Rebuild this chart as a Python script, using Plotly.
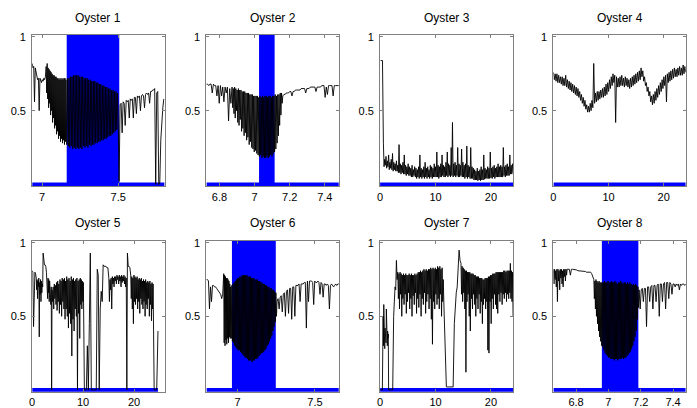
import numpy as np
import plotly.graph_objects as go

W, H = 697, 408
titles = ["Oyster 1", "Oyster 2", "Oyster 3", "Oyster 4",
          "Oyster 5", "Oyster 6", "Oyster 7", "Oyster 8"]

# ---------- Oyster 1 ----------
o1_breaks = [6.935, 7.027, 7.157, 7.506, 7.80]
o1_s1 = [0.82, 0.79, 0.80, 0.56, 0.79, 0.76, 0.73, 0.71, 0.72, 0.50, 0.72, 0.70, 0.69, 0.71, 0.70, 0.72, 0.71, 0.73]
o1_s2 = [0.80, 0.62, 0.82, 0.58, 0.79, 0.52, 0.78, 0.55, 0.77, 0.47, 0.76, 0.50, 0.75, 0.42, 0.74, 0.45, 0.74, 0.38, 0.73, 0.40,
         0.73, 0.34, 0.72, 0.36, 0.72, 0.31, 0.71, 0.33, 0.72, 0.29, 0.71, 0.31, 0.72, 0.28, 0.71, 0.30, 0.72, 0.27, 0.72, 0.29]
o1_s3 = [0.71, 0.27, 0.72, 0.26, 0.72, 0.25, 0.73, 0.26, 0.73, 0.24, 0.74, 0.25, 0.74, 0.24, 0.74, 0.25, 0.74, 0.24, 0.73, 0.25,
         0.73, 0.24, 0.73, 0.26, 0.72, 0.25, 0.72, 0.26, 0.72, 0.25, 0.71, 0.27, 0.71, 0.26, 0.70, 0.27, 0.70, 0.27, 0.70, 0.28,
         0.69, 0.28, 0.69, 0.29, 0.68, 0.29, 0.68, 0.30, 0.67, 0.30, 0.67, 0.31, 0.66, 0.31, 0.66, 0.32, 0.65, 0.33, 0.65, 0.33,
         0.64, 0.34, 0.64, 0.35, 0.63, 0.36, 0.63, 0.37, 0.62, 0.38]
o1_s4 = [0.02, 0.54, 0.55, 0.35, 0.56, 0.55, 0.40, 0.57, 0.56, 0.57, 0.45, 0.58, 0.57, 0.58, 0.45, 0.59, 0.59, 0.48, 0.60, 0.59,
         0.60, 0.50, 0.60, 0.61, 0.60, 0.52, 0.61, 0.62, 0.61, 0.62, 0.55, 0.63, 0.63, 0.64, 0.64, 0.65, 0.00, 0.62, 0.63, 0.00,
         0.01, 0.30, 0.45, 0.52, 0.58]

# ---------- Oyster 2 ----------
o2_breaks = [6.726, 6.872, 7.161, 7.48]
o2_s1 = [0.68, 0.68, 0.67, 0.68, 0.68, 0.62, 0.68, 0.67, 0.67, 0.60, 0.67, 0.55, 0.67, 0.60, 0.66, 0.56, 0.66, 0.62, 0.66, 0.43, 0.65, 0.55]
o2_s2 = [0.66, 0.52, 0.65, 0.48, 0.66, 0.45, 0.65, 0.50, 0.64, 0.42, 0.65, 0.40, 0.64, 0.44, 0.64, 0.36, 0.63, 0.38, 0.63, 0.33,
         0.63, 0.35, 0.62, 0.30, 0.62, 0.32, 0.62, 0.27, 0.61, 0.29, 0.61, 0.25, 0.61, 0.24, 0.60, 0.22, 0.60, 0.23, 0.60, 0.21,
         0.60, 0.20, 0.59, 0.19, 0.60, 0.20, 0.59, 0.18, 0.60, 0.19, 0.59, 0.18, 0.60, 0.18, 0.60, 0.19, 0.59, 0.18, 0.60, 0.19,
         0.60, 0.20, 0.59, 0.19, 0.60, 0.21, 0.60, 0.22, 0.61, 0.24, 0.60, 0.28, 0.61, 0.33, 0.61, 0.40, 0.62, 0.47, 0.62, 0.55]
o2_s3 = [0.60, 0.61, 0.61, 0.62, 0.62, 0.62, 0.63, 0.63, 0.60, 0.63, 0.63, 0.64, 0.64, 0.64, 0.64, 0.64, 0.65, 0.65, 0.65, 0.65,
         0.62, 0.65, 0.65, 0.65, 0.66, 0.66, 0.66, 0.66, 0.66, 0.63, 0.66, 0.66, 0.66, 0.66, 0.67, 0.67, 0.67, 0.59, 0.66, 0.61,
         0.67, 0.67, 0.67, 0.67, 0.60, 0.67, 0.67, 0.67, 0.67, 0.67]

# ---------- Oyster 3 ----------
o3_breaks = [0.1, 0.6, 24.0]
o3_s1 = [0.84, 0.84, 0.84]
o3_s2 = [0.28, 0.12, 0.17, 0.13, 0.19, 0.11, 0.16, 0.12, 0.20, 0.10, 0.15, 0.11, 0.17, 0.10, 0.21, 0.09, 0.15, 0.10, 0.14, 0.09,
         0.16, 0.09, 0.13, 0.08, 0.27, 0.08, 0.14, 0.07, 0.13, 0.08, 0.15, 0.07, 0.20, 0.07, 0.13, 0.06, 0.12, 0.07, 0.14, 0.06,
         0.12, 0.06, 0.11, 0.05, 0.13, 0.05, 0.10, 0.06, 0.12, 0.05, 0.11, 0.04, 0.10, 0.05, 0.12, 0.04, 0.20, 0.05, 0.11, 0.04,
         0.10, 0.05, 0.12, 0.04, 0.15, 0.05, 0.11, 0.04, 0.12, 0.05, 0.10, 0.04, 0.13, 0.05, 0.12, 0.04, 0.11, 0.05, 0.14, 0.05,
         0.12, 0.05, 0.22, 0.05, 0.13, 0.04, 0.12, 0.05, 0.14, 0.05, 0.20, 0.06, 0.13, 0.05, 0.12, 0.05, 0.15, 0.06, 0.22, 0.05,
         0.14, 0.06, 0.13, 0.05, 0.25, 0.06, 0.42, 0.05, 0.14, 0.06, 0.15, 0.05, 0.13, 0.06, 0.25, 0.05, 0.14, 0.05, 0.13, 0.06,
         0.24, 0.05, 0.15, 0.05, 0.13, 0.04, 0.14, 0.05, 0.26, 0.04, 0.13, 0.05, 0.12, 0.04, 0.25, 0.04, 0.12, 0.04, 0.11, 0.03,
         0.10, 0.03, 0.09, 0.03, 0.11, 0.025, 0.09, 0.03, 0.10, 0.025, 0.12, 0.03, 0.10, 0.03, 0.20, 0.035, 0.11, 0.04, 0.10, 0.04,
         0.12, 0.04, 0.11, 0.04, 0.22, 0.045, 0.11, 0.04, 0.12, 0.05, 0.13, 0.04, 0.11, 0.05, 0.12, 0.05, 0.14, 0.05, 0.12, 0.05,
         0.13, 0.05, 0.12, 0.05, 0.25, 0.06, 0.12, 0.05, 0.13, 0.06, 0.14, 0.06, 0.12, 0.06, 0.20, 0.07, 0.13, 0.07, 0.14, 0.08]

# ---------- Oyster 4 ----------
o4_breaks = [0.0, 24.0]
o4_s1 = [0.76, 0.71, 0.75, 0.70, 0.75, 0.69, 0.74, 0.69, 0.73, 0.68, 0.73, 0.67, 0.72, 0.67, 0.74, 0.66, 0.71, 0.65, 0.70, 0.64,
         0.69, 0.63, 0.68, 0.62, 0.67, 0.61, 0.66, 0.60, 0.65, 0.59, 0.63, 0.57, 0.61, 0.55, 0.59, 0.53, 0.57, 0.51, 0.54, 0.49,
         0.53, 0.49, 0.55, 0.50, 0.57, 0.52, 0.82, 0.55, 0.62, 0.56, 0.63, 0.57, 0.63, 0.58, 0.64, 0.59, 0.65, 0.59, 0.66, 0.60,
         0.68, 0.61, 0.69, 0.63, 0.71, 0.65, 0.73, 0.67, 0.75, 0.69, 0.74, 0.42, 0.73, 0.66, 0.72, 0.66, 0.73, 0.67, 0.74, 0.67,
         0.72, 0.66, 0.73, 0.67, 0.72, 0.66, 0.71, 0.65, 0.72, 0.66, 0.73, 0.67, 0.74, 0.68, 0.75, 0.69, 0.76, 0.70, 0.77, 0.71,
         0.79, 0.73, 0.77, 0.70, 0.73, 0.67, 0.69, 0.63, 0.66, 0.60, 0.63, 0.56, 0.60, 0.54, 0.61, 0.55, 0.63, 0.57, 0.65, 0.59,
         0.67, 0.61, 0.69, 0.63, 0.71, 0.65, 0.73, 0.67, 0.74, 0.56, 0.75, 0.69, 0.76, 0.70, 0.77, 0.71, 0.78, 0.72, 0.79, 0.73,
         0.78, 0.73, 0.79, 0.74, 0.80, 0.74, 0.79, 0.74, 0.81, 0.75, 0.80, 0.76]

# ---------- Oyster 5 ----------
o5_breaks = [0.0, 0.8, 2.15, 2.8, 3.9, 9.45, 10.25, 13.75, 15.05, 18.7, 19.35, 23.95, 24.7]
o5_s1 = [0.81, 0.80, 0.43, 0.80, 0.80, 0.79]
o5_s2 = [0.76, 0.68, 0.75, 0.62, 0.74, 0.70, 0.76, 0.36, 0.73, 0.65, 0.75, 0.60, 0.74, 0.66, 0.72, 0.70]
o5_s3 = [0.93, 0.85, 0.85, 0.85, 0.84]
o5_s4 = [0.80, 0.70, 0.78, 0.62, 0.76, 0.66, 0.75, 0.60, 0.74, 0.64, 0.72, 0.58, 0.70, 0.0]
o5_s5 = [0.68, 0.60, 0.70, 0.55, 0.72, 0.62, 0.71, 0.58, 0.73, 0.54, 0.74, 0.60, 0.72, 0.52, 0.75, 0.58, 0.74, 0.50, 0.76, 0.60,
         0.75, 0.55, 0.76, 0.48, 0.74, 0.55, 0.77, 0.50, 0.75, 0.42, 0.76, 0.52, 0.74, 0.45, 0.77, 0.23, 0.75, 0.48, 0.76, 0.40,
         0.74, 0.55, 0.75, 0.50, 0.76, 0.0, 0.74, 0.52, 0.75, 0.35]
o5_s6 = [0.76, 0.58, 0.75, 0.55, 0.74, 0.60, 0.73, 0.0]
o5_s7 = [0.0, 0.0, 0.0, 0.3, 0.0, 0.45, 0.93, 0.0, 0.0, 0.0, 0.0, 0.0, 0.0, 0.82, 0.78, 0.0, 0.55, 0.67]
o5_s8 = [0.60, 0.85, 0.84, 0.84, 0.84, 0.83, 0.83]
o5_s9 = [0.76, 0.60, 0.75, 0.68, 0.76, 0.55, 0.77, 0.72, 0.76, 0.70, 0.77, 0.74, 0.77, 0.72, 0.78, 0.75, 0.77, 0.72, 0.78, 0.74,
         0.77, 0.70, 0.78, 0.73, 0.77, 0.74, 0.78, 0.72, 0.77, 0.70, 0.76, 0.0]
o5_s10 = [0.93, 0.84, 0.84, 0.83]
o5_s11 = [0.78, 0.62, 0.77, 0.55, 0.76, 0.45, 0.78, 0.60, 0.77, 0.58, 0.76, 0.62, 0.77, 0.55, 0.75, 0.60, 0.76, 0.52, 0.75, 0.62,
          0.76, 0.58, 0.74, 0.55, 0.75, 0.60, 0.74, 0.50, 0.75, 0.58, 0.73, 0.55, 0.74, 0.62, 0.73, 0.50, 0.74, 0.58, 0.72, 0.47,
          0.73, 0.55, 0.72, 0.0]
o5_s12 = [0.0, 0.0, 0.0, 0.40]

# ---------- Oyster 6 ----------
o6_breaks = [6.798, 6.91, 6.955, 7.255, 7.655]
o6_s1 = [0.75, 0.75, 0.74, 0.55, 0.70, 0.60, 0.71, 0.71, 0.70, 0.70, 0.69, 0.68, 0.67, 0.66, 0.65, 0.62, 0.65]
o6_s2 = [0.79, 0.32, 0.78, 0.30, 0.77, 0.34, 0.76, 0.31, 0.76, 0.35, 0.75, 0.32, 0.74, 0.36, 0.72, 0.35]
o6_s3 = [0.70, 0.35, 0.71, 0.33, 0.72, 0.32, 0.73, 0.30, 0.74, 0.29, 0.75, 0.28, 0.76, 0.27, 0.76, 0.27, 0.77, 0.26, 0.77, 0.25,
         0.78, 0.24, 0.78, 0.23, 0.78, 0.22, 0.78, 0.22, 0.78, 0.21, 0.77, 0.20, 0.77, 0.20, 0.77, 0.20, 0.76, 0.19, 0.76, 0.20,
         0.76, 0.20, 0.75, 0.21, 0.75, 0.21, 0.75, 0.22, 0.74, 0.23, 0.74, 0.24, 0.73, 0.25, 0.73, 0.25, 0.72, 0.26, 0.72, 0.27,
         0.71, 0.28, 0.71, 0.30, 0.70, 0.31, 0.70, 0.33, 0.69, 0.35, 0.69, 0.37, 0.68, 0.40, 0.68, 0.43, 0.67, 0.46, 0.66, 0.50]
o6_s4 = [0.60, 0.62, 0.55, 0.63, 0.64, 0.53, 0.65, 0.66, 0.50, 0.67, 0.68, 0.52, 0.69, 0.69, 0.48, 0.70, 0.70, 0.50, 0.71, 0.71,
         0.71, 0.72, 0.60, 0.72, 0.72, 0.72, 0.73, 0.73, 0.42, 0.74, 0.60, 0.74, 0.74, 0.74, 0.73, 0.58, 0.74, 0.73, 0.73, 0.74,
         0.73, 0.65, 0.73, 0.72, 0.63, 0.72, 0.72, 0.71, 0.72, 0.71, 0.55, 0.71, 0.72, 0.71, 0.70, 0.71, 0.72, 0.71, 0.72, 0.72]

# ---------- Oyster 7 ----------
o7_breaks = [0.0, 0.55, 1.6, 2.45, 3.2, 11.4, 12.1, 13.4, 14.6, 24.0]
o7_s1 = [0.0, 0.0, 0.0, 0.0]
o7_s2 = [0.50, 0.30, 0.58, 0.35, 0.45, 0.28, 0.42, 0.35, 0.40, 0.32, 0.55, 0.38, 0.42, 0.30, 0.40, 0.35, 0.38, 0.0]
o7_s3 = [0.0, 0.0, 0.0, 0.0, 0.0]
o7_s4 = [0.50, 0.62, 0.70, 0.68, 0.88, 0.75]
o7_s5 = [0.80, 0.62, 0.79, 0.55, 0.80, 0.65, 0.79, 0.50, 0.78, 0.62, 0.79, 0.58, 0.78, 0.65, 0.79, 0.52, 0.78, 0.60, 0.78, 0.66,
         0.79, 0.55, 0.78, 0.62, 0.79, 0.50, 0.78, 0.64, 0.78, 0.58, 0.79, 0.66, 0.78, 0.52, 0.79, 0.62, 0.80, 0.56, 0.80, 0.65,
         0.81, 0.50, 0.80, 0.62, 0.81, 0.58, 0.82, 0.66, 0.81, 0.52, 0.82, 0.60, 0.81, 0.65, 0.82, 0.55, 0.82, 0.62, 0.83, 0.48,
         0.82, 0.31, 0.83, 0.60, 0.82, 0.55, 0.83, 0.65, 0.82, 0.58, 0.84, 0.62, 0.83, 0.55, 0.84, 0.65, 0.82, 0.50, 0.83, 0.60]
o7_s6 = [0.75, 0.55, 0.35, 0.15, 0.02]
o7_s7 = [0.02, 0.02, 0.02, 0.02, 0.02, 0.02]
o7_s8 = [0.45, 0.58, 0.66, 0.70, 0.80, 0.95, 0.88]
o7_s9 = [0.86, 0.65, 0.84, 0.60, 0.83, 0.66, 0.82, 0.55, 0.81, 0.12, 0.81, 0.60, 0.80, 0.65, 0.80, 0.50, 0.80, 0.40, 0.79, 0.62,
         0.79, 0.55, 0.79, 0.65, 0.78, 0.58, 0.78, 0.50, 0.77, 0.62, 0.77, 0.55, 0.77, 0.65, 0.76, 0.52, 0.76, 0.60, 0.76, 0.45,
         0.75, 0.58, 0.75, 0.62, 0.76, 0.55, 0.76, 0.60, 0.76, 0.27, 0.77, 0.25, 0.77, 0.60, 0.78, 0.45, 0.78, 0.62, 0.79, 0.55,
         0.79, 0.65, 0.79, 0.58, 0.80, 0.55, 0.80, 0.52, 0.80, 0.65, 0.80, 0.60, 0.80, 0.66, 0.80, 0.58, 0.80, 0.65, 0.81, 0.62,
         0.81, 0.66, 0.80, 0.60, 0.81, 0.65, 0.81, 0.62, 0.81, 0.66, 0.86, 0.62, 0.81, 0.60, 0.80, 0.50]

# ---------- Oyster 8 ----------
o8_breaks = [6.66, 6.745, 6.91, 6.962, 7.19, 7.4785]
o8_s1 = [0.82, 0.72, 0.82, 0.75, 0.81, 0.70, 0.82, 0.60, 0.82, 0.74, 0.81, 0.68, 0.82, 0.76, 0.82, 0.72, 0.81, 0.70, 0.82, 0.77,
         0.82, 0.74, 0.82, 0.78]
o8_s2 = [0.82, 0.82, 0.82, 0.78, 0.82, 0.82, 0.82, 0.82, 0.815, 0.815, 0.81, 0.81, 0.81, 0.81, 0.81, 0.81, 0.805, 0.805, 0.80, 0.80,
         0.80, 0.80, 0.80, 0.79, 0.76]
o8_s3 = [0.75, 0.62, 0.74, 0.55, 0.75, 0.50, 0.74, 0.45, 0.73, 0.40, 0.74, 0.36, 0.73, 0.33, 0.73, 0.30]
o8_s4 = [0.73, 0.29, 0.73, 0.27, 0.74, 0.25, 0.73, 0.24, 0.73, 0.23, 0.74, 0.22, 0.73, 0.22, 0.73, 0.21, 0.74, 0.21, 0.73, 0.21,
         0.73, 0.20, 0.74, 0.21, 0.73, 0.21, 0.72, 0.20, 0.73, 0.21, 0.73, 0.21, 0.74, 0.21, 0.73, 0.22, 0.72, 0.21, 0.73, 0.22,
         0.73, 0.22, 0.72, 0.23, 0.73, 0.24, 0.72, 0.25, 0.73, 0.26, 0.72, 0.28, 0.71, 0.30, 0.72, 0.33, 0.71, 0.36, 0.72, 0.40,
         0.71, 0.48, 0.70, 0.56]
o8_s5 = [0.68, 0.55, 0.68, 0.69, 0.60, 0.69, 0.69, 0.43, 0.70, 0.70, 0.60, 0.70, 0.71, 0.55, 0.71, 0.71, 0.60, 0.71, 0.72, 0.50,
         0.72, 0.72, 0.60, 0.72, 0.73, 0.55, 0.73, 0.73, 0.62, 0.73, 0.72, 0.65, 0.72, 0.72, 0.70, 0.72, 0.71, 0.72, 0.68, 0.72,
         0.71, 0.72, 0.72, 0.71, 0.72]

# spawning periods (None = no spawning), time extents, axis ranges and ticks
spawn_on = [7.175, 7.037, None, None, None, 6.976, None, 6.972]
spawn_off = [7.494, 7.103, None, None, None, 7.234, None, 7.173]
t_start = [6.935, 6.726, 0.0, 0.0, 0.0, 6.798, 0.0, 6.66]
t_end = [7.805, 7.48, 24.0, 24.0, 24.7, 7.655, 24.0, 7.4785]
x_ranges = [[6.935, 7.805], [6.726, 7.48], [0, 24], [0, 24], [0, 26], [6.798, 7.655], [0, 24], [6.66, 7.4785]]
x_ticks = [[7, 7.5], [6.8, 7, 7.2, 7.4], [0, 10, 20], [0, 10, 20], [0, 10, 20], [7, 7.5], [0, 10, 20], [6.8, 7, 7.2, 7.4]]
x_ticktext = [["7", "7.5"], ["6.8", "7", "7.2", "7.4"], ["0", "10", "20"], ["0", "10", "20"], ["0", "10", "20"],
              ["7", "7.5"], ["0", "10", "20"], ["6.8", "7", "7.2", "7.4"]]
y_ticks = [0.5, 1]
y_ticktext = ["0.5", "1"]

series = [
    (o1_breaks, [o1_s1, o1_s2, o1_s3, o1_s4]),
    (o2_breaks, [o2_s1, o2_s2, o2_s3]),
    (o3_breaks, [o3_s1, o3_s2]),
    (o4_breaks, [o4_s1]),
    (o5_breaks, [o5_s1, o5_s2, o5_s3, o5_s4, o5_s5, o5_s6, o5_s7, o5_s8, o5_s9, o5_s10, o5_s11, o5_s12]),
    (o6_breaks, [o6_s1, o6_s2, o6_s3, o6_s4]),
    (o7_breaks, [o7_s1, o7_s2, o7_s3, o7_s4, o7_s5, o7_s6, o7_s7, o7_s8, o7_s9]),
    (o8_breaks, [o8_s1, o8_s2, o8_s3, o8_s4, o8_s5]),
]


def build(breaks, segs):
    xs, ys = [], []
    for k, seg in enumerate(segs):
        last = (k == len(segs) - 1)
        xs.extend(np.linspace(breaks[k], breaks[k + 1], len(seg), endpoint=last).tolist())
        ys.extend(seg)
    return xs, ys


col_px = [(29.3, 162.3), (204.3, 337.3), (378.7, 512.3), (552.8, 685.7)]
row_px = [(31.4, 184.6), (239.8, 392.6)]
title_px = [14.0, 222.0]

FONT = "Liberation Sans, Arial, Helvetica, sans-serif"
fig = go.Figure()
layout = dict(width=W, height=H, margin=dict(l=0, r=0, t=0, b=0), autosize=False,
              paper_bgcolor="white", plot_bgcolor="white", showlegend=False,
              font=dict(family=FONT, size=11, color="black"))
annotations = []

for i in range(8):
    r, c = divmod(i, 4)
    xname = "x" if i == 0 else f"x{i + 1}"
    yname = "y" if i == 0 else f"y{i + 1}"
    xkey = "xaxis" if i == 0 else f"xaxis{i + 1}"
    ykey = "yaxis" if i == 0 else f"yaxis{i + 1}"

    # spawning indicator (0/1), thick blue; path returns along the baseline
    if spawn_on[i] is not None:
        bx = [t_start[i], spawn_on[i], spawn_on[i], spawn_off[i], spawn_off[i], t_end[i], t_start[i]]
        by = [0, 0, 1, 1, 0, 0, 0]
        fig.add_trace(go.Scatter(x=bx, y=by, mode="lines", xaxis=xname, yaxis=yname,
                                 line=dict(color="#0000ff", width=4), fill="toself",
                                 fillcolor="#0000ff", hoverinfo="skip"))
    else:
        fig.add_trace(go.Scatter(x=[t_start[i], t_end[i]], y=[0, 0], mode="lines",
                                 xaxis=xname, yaxis=yname,
                                 line=dict(color="#0000ff", width=4), hoverinfo="skip"))

    bx, by = build(*series[i])
    fig.add_trace(go.Scatter(x=bx, y=by, mode="lines", xaxis=xname, yaxis=yname,
                             line=dict(color="black", width=0.9)))

    layout[xkey] = dict(domain=[col_px[c][0] / W, col_px[c][1] / W], anchor=yname,
                        range=x_ranges[i], tickvals=x_ticks[i], ticktext=x_ticktext[i],
                        ticks="inside", ticklen=3, tickcolor="#808080", showline=True,
                        linecolor="#808080", linewidth=1, mirror="ticks", showgrid=False,
                        zeroline=False, tickfont=dict(size=11, color="black", family=FONT))
    layout[ykey] = dict(domain=[1 - row_px[r][1] / H, 1 - row_px[r][0] / H], anchor=xname,
                        range=[-0.013, 1.013], tickvals=y_ticks, ticktext=y_ticktext,
                        ticks="inside", ticklen=3, tickcolor="#808080", showline=True,
                        linecolor="#808080", linewidth=1, mirror="ticks", showgrid=False,
                        zeroline=False, ticklabelstandoff=3,
                        tickfont=dict(size=11, color="black", family=FONT))
    annotations.append(dict(text=titles[i], xref="paper", yref="paper",
                            x=(col_px[c][0] + col_px[c][1]) / 2 / W, y=1 - title_px[r] / H,
                            xanchor="center", yanchor="middle", showarrow=False,
                            font=dict(size=12, color="black", family=FONT)))

layout["annotations"] = annotations
fig.update_layout(**layout)
fig.write_html("out.html", config={"displayModeBar": False},
               post_script="document.body.style.margin='0';document.body.style.overflow='hidden';")
